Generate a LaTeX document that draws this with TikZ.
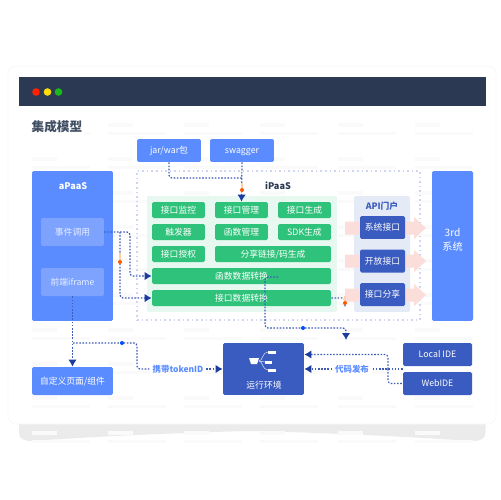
\documentclass[tikz,border=0pt]{standalone}
\usepackage{fontspec}
\setmainfont{Noto Sans CJK SC}
\usepackage{xcolor}
\usetikzlibrary{arrows.meta}

\definecolor{headbar}{HTML}{2B3A52}
\definecolor{bluefill}{HTML}{5B8CFF}
\definecolor{paleblue}{HTML}{7DA3FF}
\definecolor{navyfill}{HTML}{3A5BBF}
\definecolor{greenfill}{HTML}{2FC27A}
\definecolor{linkblue}{HTML}{3F5CB8}
\definecolor{tipblue}{HTML}{1C3D9E}
\definecolor{pinkfill}{HTML}{FBDDD9}

\begin{document}
\begin{tikzpicture}[
    x=0.02cm, y=-0.02cm,
    >={Latex[length=0.14cm, width=0.17cm, color=tipblue]},
    font=\fontsize{5}{6.5}\selectfont,
    box/.style={rounded corners=0.03cm, inner sep=0pt, align=center, text=white, text height=4.4pt, text depth=0.6pt},
    bluebox/.style={box, fill=bluefill},
    navybox/.style={box, fill=navyfill},
    palebox/.style={box, fill=paleblue, text=white!85!bluefill, minimum width=1.26cm, minimum height=0.56cm},
    greenbtn/.style={box, fill=greenfill, minimum width=1.06cm, minimum height=0.32cm},
    greenbar/.style={box, fill=greenfill, minimum width=3.58cm, minimum height=0.32cm},
    apibtn/.style={navybox, minimum width=0.9cm, minimum height=0.46cm},
    idebox/.style={navybox, minimum width=1.38cm, minimum height=0.46cm},
    link/.style={draw=linkblue, line width=0.7pt, dash pattern=on 0.9pt off 0.9pt, rounded corners=0.06cm},
    linklabel/.style={fill=white, inner sep=1.5pt, text=bluefill, font=\fontsize{4.8}{6}\selectfont\bfseries}
]

    \useasboundingbox (0,0) rectangle (500,500);

    % Sheet behind the card
    \fill[black!8] (19,420) -- (19,433) .. controls (19,439) and (24,441) .. (32,441)
        .. controls (100,436) and (200,432) .. (252,431) .. controls (300,432) and (400,436) .. (472,441)
        .. controls (480,441) and (485.5,439) .. (485.5,433) -- (485.5,420) -- cycle;

    % Card
    \draw[draw=black!3, fill=white, rounded corners=0.16cm] (8,66) rectangle (496,424);
    \fill[headbar] (19,77) rectangle (485.5,106);
    \fill[red!75!orange] (36,92) circle (3.8);
    \fill[yellow!80!orange] (47.5,92) circle (3.8);
    \fill[green!70!black!90!white] (58.5,92) circle (3.8);

    % Faint lines in the background
    \foreach \colx in {32,108,184,260,338,415}
        \foreach \rowy in {125,159,193,227,261,295,330,364,398,433} {
            \fill[black!2] (\colx,\rowy-2) rectangle ++(25,4);
            \fill[black!2] (\colx,\rowy+7) rectangle ++(58,3);
        }

    \node[font=\fontsize{7.2}{9}\selectfont\bfseries, text=headbar!90!white, fill=white, inner sep=1pt] (title) at (57,127) {集成模型};

    % Inputs on top
    \node[bluebox, minimum width=1.28cm, minimum height=0.46cm] (jar) at (169,150.5) {jar/war包};
    \node[bluebox, minimum width=1.28cm, minimum height=0.46cm] (swagger) at (242,150.5) {swagger};

    % aPaaS
    \node[bluebox, minimum width=1.62cm, minimum height=3cm] (apaas) at (72.5,246) {};
    \node[text=white, inner sep=0pt] (apaaslabel) at (73,186) {\fontsize{5.2}{6}\selectfont\bfseries aPaaS};
    \node[palebox] (event) at (72.5,232) {事件调用};
    \node[palebox] (iframe) at (72.5,282) {前端iframe};
    \node[bluebox, minimum width=1.62cm, minimum height=0.56cm] (custom) at (72.5,381) {自定义页面/组件};

    % iPaaS
    \node[draw=navyfill!25!white, line width=0.8pt, dash pattern=on 0.9pt off 1.7pt, minimum width=5.66cm, minimum height=2.98cm, inner sep=0pt] (ipaas) at (278.5,245.5) {};
    \node[text=headbar, inner sep=0pt] (ipaaslabel) at (278,186) {\fontsize{5.2}{6}\selectfont\bfseries iPaaS};
    \node[box, fill=greenfill!12!white, minimum width=3.8cm, minimum height=2.32cm] (greenarea) at (242,254) {};
    \node[box, fill=navyfill!13!white, minimum width=1.12cm, minimum height=2.32cm] (apiarea) at (382,254) {};

    % Pink arrows to 3rd
    \foreach \rowy in {228,261,295}
        \fill[pinkfill] (345,\rowy-6.5) -- (414,\rowy-6.5) -- (414,\rowy-11) -- (426,\rowy) -- (414,\rowy+11) -- (414,\rowy+6.5) -- (345,\rowy+6.5) -- cycle;

    % Green buttons
    \node[greenbtn] (monitor) at (178.5,210) {接口监控};
    \node[greenbtn] (manage) at (241.5,210) {接口管理};
    \node[greenbtn] (create) at (304.5,210) {接口生成};
    \node[greenbtn] (trigger) at (178.5,232) {触发器};
    \node[greenbtn] (func) at (241.5,232) {函数管理};
    \node[greenbtn] (sdk) at (304.5,232) {SDK生成};
    \node[greenbtn] (auth) at (178.5,254) {接口授权};
    \node[greenbtn, minimum width=2.32cm] (share) at (273,254) {分享链接/码生成};
    \node[greenbar] (funcbar) at (241.5,276) {函数数据转换};
    \node[greenbar] (apibar) at (241.5,298) {接口数据转换};

    % API portal
    \node[text=navyfill, inner sep=0pt] (apilabel) at (382,206) {\bfseries API门户};
    \node[apibtn] (sysapi) at (382.5,227.5) {系统接口};
    \node[apibtn] (openapi) at (382.5,261) {开放接口};
    \node[apibtn] (shareapi) at (382.5,294.5) {接口分享};

    % 3rd
    \node[bluebox, minimum width=0.82cm, minimum height=3cm] (third) at (452.5,246) {};
    \node[text=white, inner sep=0pt, align=center, font=\fontsize{5.8}{8}\selectfont] (thirdlabel) at (452.5,240) {3rd\\系统};

    % Bottom row
    \node[navybox, minimum width=1.62cm, minimum height=1.04cm] (runtime) at (263.5,369) {};
    \node[text=white, inner sep=0pt] (runlabel) at (264,385) {运行环境};
    \node[idebox] (localide) at (437.5,354.5) {Local IDE};
    \node[idebox] (webide) at (437.5,383.5) {WebIDE};

    % Icon in the runtime box
    \draw[white!80!navyfill, line width=0.3pt] (259,361) .. controls (263,361) and (262,352) .. (268,352);
    \draw[white!80!navyfill, line width=0.3pt] (259,361) -- (265,362);
    \draw[white!80!navyfill, line width=0.3pt] (259,361) .. controls (263,361) and (262,370) .. (268,370);
    \fill[white] (249,358) -- (259,358) -- (257,364) -- (251,364) -- cycle;
    \fill[white] (268,350.5) rectangle (276,353.5);
    \fill[white] (265,360.5) rectangle (272,363.5);
    \fill[white] (268,368.5) rectangle (276,371.5);

    % Free ends of the links
    \coordinate (jarturn) at (169,178);
    \coordinate (swagturn) at (242,178);
    \coordinate (eventout) at (130,232);
    \coordinate (eventfork) at (120,232);
    \coordinate (funcfrom) at (278,277);
    \coordinate (runturn) at (265,328);
    \coordinate (apidown) at (345,307);
    \coordinate (sharein) at (346,340);
    \coordinate (iframefork) at (73,343);
    \coordinate (tokenturn) at (137,343);
    \coordinate (idefork) at (388,369);

    % Links
    \draw[link] (jar.south) -- (jarturn) -- (swagturn);
    \draw[link, ->] (swagger.south) -- (manage.north);
    \draw[link, ->] (event.east) -- (eventout) |- (funcbar.west);
    \draw[link, ->] (eventfork) |- (apibar.west);
    \draw[link, ->] (iframe.south) -- (custom.north);
    \node[linklabel] (token) at (178,369) {携带tokenID};
    \draw[link] (iframefork) -- (tokenturn) |- (token.west);
    \draw[link, ->] (token.east) -- (runtime.west |- token);
    \draw[link, ->] (funcfrom) -| (runturn) -| (sharein);
    \draw[link] (apibar.east) -| (apidown);
    \node[linklabel] (publish) at (352,369) {代码发布};
    \draw[link, ->] (idefork) |- (runtime.east |- localide);
    \draw[link] (webide.west |- idefork) -- (publish.east);
    \draw[link] (idefork) |- (webide.west);
    \draw[link, ->] (publish.west) -- (runtime.east |- publish);

    % Dots on the links, with their tails
    \draw[orange!35!white, line width=1pt] (242,183) -- (242,190);
    \draw[orange!35!white, line width=1pt] (120,253) -- (120,262);
    \draw[orange!35!white, line width=1pt] (345,296) -- (345,303);
    \fill[orange!70!red] (242,190) circle (2);
    \fill[orange!70!red] (120,262) circle (2);
    \fill[orange!70!red] (345,303) circle (2);
    \fill[blue!70!cyan] (122,343) circle (2);
    \fill[blue!70!cyan] (303,328) circle (2);

\end{tikzpicture}
\end{document}
